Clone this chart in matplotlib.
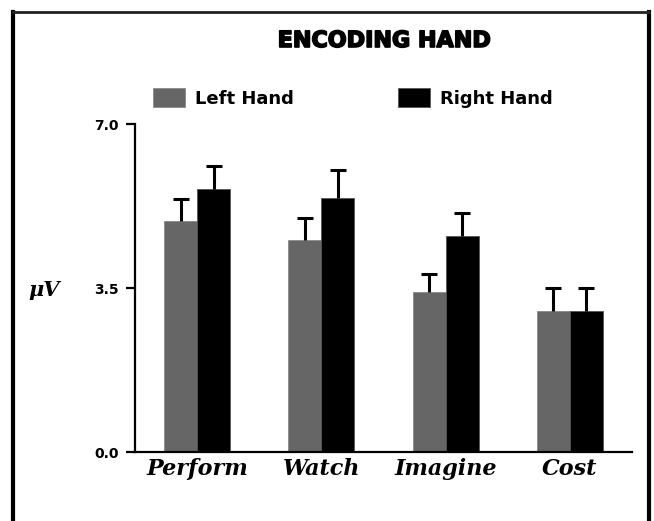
import numpy as np
import matplotlib
matplotlib.use("Agg")
import matplotlib.pyplot as plt
from matplotlib.lines import Line2D
import matplotlib.patheffects as pe

# values
categories = ["Perform", "Watch", "Imagine", "Cost"]
left_hand = [4.93, 4.52, 3.41, 3.01]
right_hand = [5.62, 5.43, 4.62, 3.01]
left_err = [0.48, 0.48, 0.38, 0.48]
right_err = [0.49, 0.58, 0.49, 0.48]
y_ticks = [0.0, 3.5, 7.0]
y_ticklabels = ["0.0", "3.5", "7.0"]

W, H = 654, 521
fig = plt.figure(figsize=(W / 100, H / 100), dpi=100)
# axes box in pixels: x 135..632, y 124..452
ax = fig.add_axes([135 / W, 1 - 452 / H, (632 - 135) / W, (452 - 124) / H])

x = np.arange(len(categories))
w = 0.266
gray = "#666666"
ax.bar(x - w / 2, left_hand, w, color=gray, edgecolor="#8a8a8a", linewidth=0.6,
       label="Left Hand", zorder=2)
ax.bar(x + w / 2, right_hand, w, color="black", edgecolor="#555555", linewidth=0.6,
       label="Right Hand", zorder=2)

# one-sided error bars (upper half only, no cap on the bar top)
zeros = np.zeros(len(categories))
for xs, vals, errs in [(x - w / 2, left_hand, left_err), (x + w / 2, right_hand, right_err)]:
    eb = ax.errorbar(xs, vals, yerr=[zeros, errs], fmt="none", ecolor="black",
                     elinewidth=2.2, capsize=6, capthick=2.2, zorder=3)
    eb[1][0].set_visible(False)

ax.set_xlim(-0.5, 3.5)
ax.set_ylim(0, 7)
ax.spines["top"].set_visible(False)
ax.spines["right"].set_visible(False)
ax.spines["left"].set_linewidth(1.6)
ax.spines["bottom"].set_linewidth(1.6)

ax.set_yticks(y_ticks)
ax.set_yticklabels(y_ticklabels, fontsize=10, fontweight="bold", family="DejaVu Sans")
ax.tick_params(axis="y", length=6.5, width=1.6, pad=5)
ax.set_xticks(x)
ax.set_xticklabels(categories, fontsize=16, fontweight="bold", style="italic",
                   family="DejaVu Serif")
ax.tick_params(axis="x", length=0, pad=4)

ax.set_ylabel("μV", rotation=0, fontsize=15, fontweight="bold", style="italic",
              family="DejaVu Serif", va="center", ha="center")
ax.yaxis.set_label_coords(-0.183, 0.494)

fig.text(384 / W, 1 - 41 / H, "ENCODING HAND", ha="center", va="center",
         fontsize=16, fontweight="bold", family="DejaVu Sans",
         path_effects=[pe.withStroke(linewidth=1.2, foreground="black")])

leg = ax.legend(ncol=2, frameon=False, loc="upper left",
                bbox_to_anchor=(153 / W, 1 - 88 / H), bbox_transform=fig.transFigure,
                prop={"weight": "bold", "size": 13},
                handlelength=1.78, handleheight=1.28, handletextpad=0.52,
                columnspacing=5.8, borderpad=0, borderaxespad=0)

# outer frame (open at the bottom)
fx0, fx1, fy = 12.5 / W, 648.5 / W, 1 - 12 / H
fig.add_artist(Line2D([fx0, fx0], [0, fy], transform=fig.transFigure, color="black", lw=3))
fig.add_artist(Line2D([fx1, fx1], [0, fy], transform=fig.transFigure, color="black", lw=3))
fig.add_artist(Line2D([fx0, fx1], [fy, fy], transform=fig.transFigure, color="#222222", lw=2,
                      solid_capstyle="projecting"))

fig.savefig("out.png", dpi=100)
